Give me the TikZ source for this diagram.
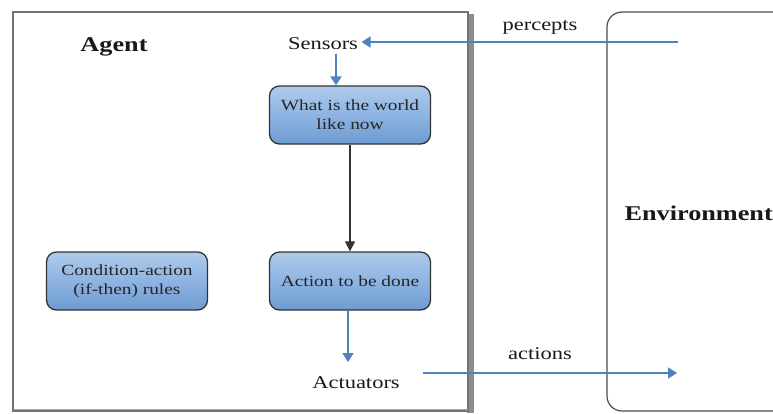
\documentclass[tikz,border=0pt]{standalone}
\usepackage{fontspec}
\setmainfont{Liberation Serif}[FakeStretch=1.25]
\usetikzlibrary{arrows.meta,shadows}
\definecolor{boxblue}{HTML}{8DB4E2}
\definecolor{boxblueD}{HTML}{6E9BD0}
\definecolor{arrblue}{HTML}{4F81BD}
\tikzset{
  procbox/.style={draw=black!80, line width=1.3pt, rounded corners=10pt, top color=boxblue!70, bottom color=boxblueD, middle color=boxblue,
    minimum width=161pt, minimum height=58pt, align=center, font=\fontsize{15.5}{19}\selectfont, text=black!85},
  blarrow/.style={draw=arrblue, line width=1.6pt, -{Triangle[length=9pt,width=11pt]}},
  karrow/.style={draw=black!80, line width=1.2pt, -{Triangle[length=10pt,width=10pt]}},
  lbl/.style={font=\fontsize{18}{21}\selectfont, text=black!90},
  blbl/.style={font=\fontsize{21}{24}\selectfont\bfseries, text=black!90},
}
\begin{document}
\begin{tikzpicture}[x=1pt,y=-1pt]
\useasboundingbox (0,0) rectangle (773,413);
% agent frame
\fill[black!45] (467,14) rectangle (474,413);
\draw[draw=black!55, line width=1.2pt, fill=white] (13,12) rectangle (468,411);
\draw[black!35, line width=1pt] (14,409) -- (468,409);
% environment frame
\draw[draw=black!70, line width=1.2pt, fill=white, rounded corners=15pt] (607,12) -- (800,12) -- (800,411) -- (607,411) -- cycle;

\node[blbl] (agent) at (114,47) {Agent};
\node[blbl, anchor=west] (env) at (621,213) {Environment};
\node[lbl] (sensors) at (323,44) {Sensors};
\node[lbl] (actuators) at (356,383) {Actuators};
\node[lbl] (percepts) at (540,27) {percepts};
\node[lbl] (actions) at (540,354) {actions};

\node[procbox] (world) at (350,115) {What is the world\\like now};
\node[procbox] (act) at (350,281) {Action to be done};
\node[procbox] (rules) at (127,281) {Condition-action\\(if-then) rules};

\coordinate (penv) at (678,42);
\coordinate (aenv) at (677,373);
\coordinate (aout) at (423,373);

\draw[blarrow] (penv) -- (sensors.east |- penv);
\draw[blarrow] (sensors.south -| 336,0) -- (world.north -| 336,0);
\draw[karrow] (world.south) -- (act.north);
\draw[blarrow] (act.south -| 348,0) -- (348,362);
\draw[blarrow] (aout) -- (aenv);
\end{tikzpicture}
\end{document}
